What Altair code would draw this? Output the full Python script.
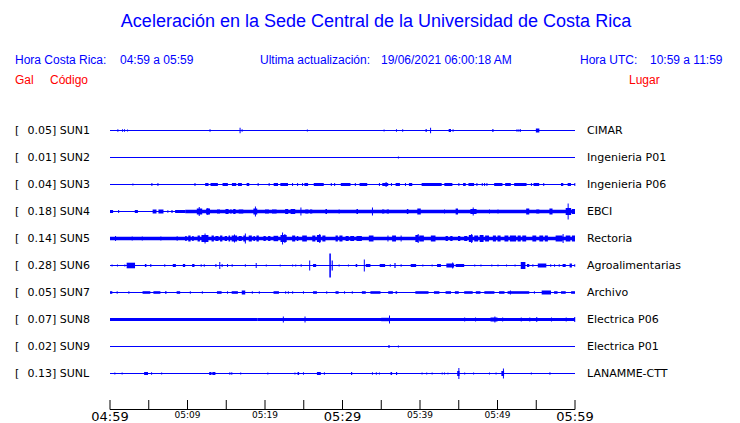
import altair as alt
import pandas as pd

# ---------------- data ----------------
stations = ["SUN1", "SUN2", "SUN3", "SUN4", "SUN5", "SUN6", "SUN7", "SUN8", "SUN9", "SUNL"]
peak_gal = ["0.05", "0.01", "0.04", "0.18", "0.14", "0.28", "0.05", "0.07", "0.02", "0.13"]
places = ["CIMAR", "Ingenieria P01", "Ingenieria P06", "EBCI", "Rectoria",
          "Agroalimentarias", "Archivo", "Electrica P06", "Electrica P01", "LANAMME-CTT"]

# time axis (minutes after 04:59 local time)
tick_minutes = [0, 5, 10, 15, 20, 25, 30, 35, 40, 45, 50, 55, 60]
label_minutes = [0, 10, 20, 30, 40, 50, 60]
tick_labels = ["04:59", "05:09", "05:19", "05:29", "05:39", "05:49", "05:59"]

# background noise level of each trace: (start min, end min, half amplitude)
base_sun1 = [(0, 60, 0.5)]
base_sun2 = [(0, 60, 0.5)]
base_sun3 = [(0, 60, 0.5)]
base_sun4 = [(0, 9.7, 0.5), (9.7, 60, 1.7)]
base_sun5 = [(0, 60, 1.7)]
base_sun6 = [(0, 60, 0.5)]
base_sun7 = [(0, 60, 0.5)]
base_sun8 = [(0, 19.0, 1.5), (19.0, 60, 1.4)]
base_sun9 = [(0, 60, 0.5)]
base_sunl = [(0, 60, 0.5)]

# bursts of each trace: (start min, end min, half amplitude)
burst_sun1 = [(0.95, 0.95, 1.3), (1.55, 1.55, 1.3), (1.81, 1.81, 1.3), (2.2, 2.2, 1.0),
              (12.84, 12.84, 1.3), (16.72, 16.72, 2.7), (16.98, 16.98, 1.3), (25.4, 25.4, 1.0),
              (35.3, 35.3, 1.0), (36.9, 36.9, 1.3), (37.7, 37.7, 1.3), (40.7, 40.9, 1.2),
              (41.3, 41.3, 2.7), (43.7, 44.0, 1.5), (44.2, 44.2, 1.3), (49.3, 49.5, 1.3),
              (52.45, 52.45, 1.3), (52.7, 52.7, 1.3), (52.9, 52.9, 1.3), (54.95, 55.4, 2.0)]
burst_sun2 = [(37.15, 37.15, 1.0)]
burst_sun3 = [(2.89, 2.89, 1.0), (5.34, 5.34, 1.5), (6.12, 6.12, 1.5), (10.9, 10.9, 1.5),
              (12.28, 12.71, 1.5), (12.97, 13.92, 1.5), (14.52, 15.21, 1.5), (15.73, 16.29, 1.5),
              (16.51, 17.02, 1.5), (17.63, 17.97, 1.5), (19.05, 19.05, 1.5), (20.47, 20.47, 1.5),
              (21.12, 21.68, 1.5), (21.98, 22.97, 1.5), (23.49, 23.49, 1.5), (24.14, 24.14, 1.5),
              (24.78, 24.78, 1.5), (25.08, 25.56, 1.5), (26.29, 27.58, 1.5), (28.49, 28.49, 1.5),
              (28.92, 28.92, 1.5), (29.78, 31.03, 1.5), (31.59, 31.59, 1.5), (32.2, 33.19, 1.5),
              (34.7, 34.7, 1.5), (35.13, 35.9, 1.5), (35.56, 35.56, 2.5), (36.25, 36.25, 1.5),
              (36.85, 37.41, 1.5), (38.06, 38.06, 1.5), (38.57, 39.0, 1.5), (40.21, 42.8, 1.5),
              (43.14, 44.18, 1.5), (44.95, 44.95, 1.5), (45.56, 45.9, 1.5), (46.25, 46.98, 1.5),
              (47.28, 47.28, 1.5), (47.97, 47.97, 1.5), (48.27, 48.27, 1.5), (48.57, 48.57, 1.5),
              (49.57, 50.64, 1.5), (50.99, 51.72, 1.5), (52.15, 53.75, 1.5), (54.31, 54.31, 1.5),
              (54.65, 55.38, 1.5), (55.9, 55.9, 1.5), (58.19, 58.49, 1.5), (59.05, 59.48, 1.5),
              (59.91, 59.91, 1.5)]
burst_sun4 = [(0.0, 0.4, 1.5), (1.05, 1.05, 1.5), (3.2, 3.6, 1.5), (5.5, 6.0, 2.0),
              (6.25, 6.9, 2.0), (7.4, 7.4, 1.3), (7.9, 8.1, 1.3), (8.4, 9.7, 1.5),
              (11.2, 11.9, 3.0), (11.45, 11.45, 4.5), (12.4, 12.9, 3.0), (12.55, 12.55, 3.5),
              (13.8, 14.2, 2.0), (14.9, 15.3, 2.5), (15.5, 15.7, 2.0), (15.9, 16.2, 2.5),
              (16.6, 17.2, 2.0), (18.5, 19.0, 3.0),
              (18.7, 18.7, 5.0), (20.0, 20.5, 2.0), (20.9, 21.5, 2.0), (22.6, 23.0, 2.5),
              (23.3, 23.9, 2.5), (24.57, 24.57, 4.0),
              (25.2, 25.6, 2.0), (25.8, 26.1, 2.0), (27.8, 28.0, 2.5), (29.5, 29.5, 2.0),
              (31.8, 32.0, 2.5), (33.8, 33.8, 4.0), (35.1, 35.4, 2.0), (35.7, 36.0, 2.0),
              (38.3, 38.5, 2.5), (39.65, 40.1, 3.0),
              (43.1, 43.1, 2.0), (44.6, 44.9, 3.0), (46.5, 47.3, 2.5), (46.8, 46.8, 4.0),
              (48.9, 48.9, 2.0), (50.0, 50.0, 2.0), (53.7, 54.1, 3.0), (55.0, 55.4, 2.0),
              (56.7, 57.1, 3.0), (58.8, 59.5, 3.5), (59.05, 59.05, 8.0), (59.6, 60.0, 2.5)]
burst_sun5 = [(0.65, 0.65, 2.5), (2.8, 2.8, 2.0), (4.1, 4.1, 2.0), (6.5, 6.5, 2.0),
              (8.6, 8.6, 2.3), (9.7, 9.9, 2.5), (10.1, 10.4, 3.0), (10.6, 10.8, 2.5),
              (11.3, 11.6, 3.0), (11.8, 12.7, 3.5), (12.2, 12.2, 5.0),
              (13.1, 13.4, 3.0), (13.6, 14.0, 2.5), (14.2, 14.5, 3.0), (14.8, 15.1, 2.5),
              (15.3, 15.5, 3.0), (15.7, 16.4, 3.0), (16.0, 16.0, 4.0), (16.6, 17.0, 2.5),
              (17.2, 17.5, 3.0), (17.4, 17.4, 5.0), (17.9, 18.3, 3.0), (18.5, 18.7, 2.5),
              (18.9, 19.2, 3.0), (19.8, 20.1, 2.5), (20.4, 20.7, 2.5), (21.1, 21.7, 2.7),
              (22.0, 22.8, 3.5), (22.2, 22.2, 6.0), (22.5, 22.5, 4.5), (23.5, 23.9, 3.0),
              (24.1, 24.3, 2.5), (24.8, 25.4, 3.0), (26.1, 26.5, 3.0), (26.7, 27.2, 3.5),
              (27.0, 27.0, 4.5), (27.4, 27.8, 3.0), (29.1, 29.4, 3.0), (29.6, 30.0, 3.0),
              (30.4, 30.8, 2.5), (31.0, 31.5, 2.5), (31.8, 32.5, 2.5), (33.4, 34.0, 3.0),
              (35.8, 35.8, 3.0), (36.4, 36.9, 3.0), (37.5, 37.5, 3.0), (39.4, 39.8, 3.5),
              (39.9, 40.5, 3.0), (39.7, 39.7, 4.5), (41.4, 42.0, 3.0), (43.3, 43.6, 2.5),
              (43.9, 44.2, 2.5), (44.9, 45.2, 2.5), (45.7, 46.1, 2.5), (46.3, 46.8, 3.5),
              (46.6, 46.6, 4.5), (47.0, 47.5, 3.0), (47.7, 48.2, 3.5), (48.4, 48.9, 3.0),
              (49.4, 49.8, 3.0), (50.0, 50.4, 3.0), (50.9, 51.4, 3.0), (51.6, 52.4, 3.0),
              (52.6, 53.0, 3.0), (53.2, 53.7, 3.0), (54.5, 55.0, 3.0), (55.4, 55.9, 3.0),
              (56.1, 56.5, 3.0), (57.5, 58.4, 3.0), (58.4, 58.4, 4.5), (58.8, 59.4, 3.0),
              (59.6, 60.0, 3.0)]
burst_sun6 = [(0.2, 0.2, 1.0), (0.9, 0.9, 1.0), (1.85, 1.85, 1.0), (2.15, 3.23, 2.8),
              (4.5, 4.7, 1.5), (5.2, 5.2, 1.5), (7.0, 7.0, 1.3), (8.1, 8.5, 1.5),
              (9.4, 9.7, 1.5), (10.6, 10.9, 1.5), (11.7, 11.7, 1.3), (12.1, 12.1, 1.3),
              (13.6, 13.7, 1.5), (14.1, 14.1, 3.5), (14.4, 14.4, 1.5), (15.1, 15.2, 1.5),
              (15.7, 15.7, 1.3), (17.4, 17.4, 1.3), (18.8, 18.8, 2.5), (20.1, 20.1, 1.0),
              (21.9, 21.9, 1.0), (23.5, 23.5, 1.0), (23.9, 23.9, 1.0), (24.6, 24.6, 1.3),
              (25.7, 25.7, 5.0), (26.2, 26.6, 1.5), (28.3, 28.5, 12.0), (28.6, 28.75, 5.0),
              (29.5, 29.5, 1.0), (30.7, 30.7, 1.0), (31.7, 31.9, 1.5), (32.75, 32.75, 6.0),
              (33.0, 33.6, 1.5), (34.8, 35.5, 1.5), (36.1, 36.1, 1.3), (36.7, 36.85, 2.5),
              (37.5, 37.5, 1.3), (38.8, 39.5, 1.5), (40.3, 40.3, 1.0), (41.5, 41.5, 1.0),
              (42.2, 42.7, 1.5), (43.4, 44.4, 2.0), (44.15, 44.15, 3.0), (44.6, 45.7, 1.5),
              (47.0, 47.0, 1.0), (47.8, 47.8, 1.0), (49.2, 49.2, 1.0), (50.0, 50.0, 1.0),
              (51.1, 51.1, 1.0), (52.2, 52.2, 1.0), (53.0, 53.6, 3.5), (53.8, 54.1, 1.5),
              (54.5, 54.5, 1.3), (55.2, 56.3, 2.0), (56.8, 56.8, 1.3), (57.3, 57.3, 1.3),
              (57.9, 57.9, 1.3), (58.4, 58.8, 1.5), (59.3, 59.6, 2.0), (59.9, 59.9, 1.3)]
burst_sun7 = [(0.0, 0.3, 1.3), (0.86, 0.86, 1.3), (2.37, 2.37, 1.3), (4.2, 5.2, 1.3),
              (5.6, 6.5, 1.3), (7.1, 7.3, 1.3), (8.6, 9.05, 1.3), (10.3, 10.3, 1.3),
              (11.85, 11.85, 1.3), (13.8, 14.4, 1.3), (15.1, 15.1, 1.3), (15.7, 16.5, 1.3),
              (17.0, 17.45, 2.0), (18.3, 18.3, 1.3), (19.2, 19.2, 1.3), (21.1, 21.8, 1.3),
              (22.6, 22.6, 1.3), (22.95, 22.95, 1.3), (23.5, 23.5, 1.3), (24.9, 24.9, 1.3),
              (26.2, 26.7, 1.3), (27.9, 27.9, 1.3), (29.1, 29.5, 1.3), (30.2, 30.2, 1.3),
              (31.2, 31.2, 1.3), (32.5, 33.0, 1.3), (33.6, 34.9, 1.3), (35.9, 36.5, 1.3),
              (36.85, 37.05, 1.3), (39.4, 41.1, 1.3), (41.8, 42.5, 1.3), (43.3, 44.0, 1.3),
              (44.5, 45.0, 1.3), (45.7, 46.8, 1.3), (47.2, 47.8, 1.3), (48.3, 49.6, 1.3),
              (50.2, 50.9, 1.3), (51.3, 54.1, 1.3), (51.6, 51.6, 2.0), (54.7, 54.7, 1.3),
              (55.7, 56.9, 2.0), (57.3, 57.75, 1.3), (58.2, 58.8, 1.3), (59.5, 60.0, 1.3)]
burst_sun8 = [(22.3, 22.3, 3.0), (25.1, 25.1, 3.0), (35.0, 36.0, 1.7), (36.0, 36.0, 4.0),
              (45.7, 45.7, 2.0), (47.1, 47.1, 2.0), (49.1, 50.0, 2.0), (49.6, 49.6, 3.0),
              (50.6, 50.6, 2.0), (53.0, 53.0, 2.0), (54.1, 54.1, 2.0), (55.0, 55.0, 2.5),
              (56.9, 56.9, 2.0), (58.8, 58.8, 2.0), (59.9, 59.9, 2.5)]
burst_sun9 = [(35.9, 36.1, 1.2), (37.15, 37.15, 1.0)]
burst_sunl = [(0.56, 0.56, 1.0), (1.5, 1.5, 1.0), (4.4, 4.9, 1.5), (5.3, 5.3, 1.3),
              (6.6, 6.6, 1.0), (12.8, 13.1, 1.5), (13.2, 13.6, 1.5), (15.4, 15.4, 1.3),
              (15.65, 15.65, 1.3), (16.8, 16.8, 1.0), (20.3, 20.3, 1.0), (23.8, 23.8, 1.0),
              (24.2, 24.4, 1.5), (24.9, 24.9, 1.3), (26.7, 27.2, 1.5), (27.6, 27.6, 1.3),
              (31.1, 31.25, 1.5), (33.8, 33.8, 1.3), (34.3, 34.3, 1.3), (34.7, 34.7, 1.0),
              (36.2, 36.4, 1.5), (36.9, 37.05, 1.5), (40.2, 40.2, 1.0), (40.8, 40.8, 1.0),
              (41.5, 41.5, 1.0), (42.8, 42.8, 1.0), (43.1, 43.1, 1.0), (43.5, 43.7, 0.8),
              (44.8, 45.1, 2.5), (44.95, 44.95, 5.5), (45.7, 45.7, 1.0), (46.85, 46.85, 1.0),
              (48.9, 48.9, 1.0), (49.75, 49.75, 1.0), (50.5, 50.85, 2.5), (50.7, 50.7, 5.0),
              (54.3, 54.3, 1.0), (56.7, 56.7, 1.3)]

baselines = [base_sun1, base_sun2, base_sun3, base_sun4, base_sun5,
             base_sun6, base_sun7, base_sun8, base_sun9, base_sunl]
bursts = [burst_sun1, burst_sun2, burst_sun3, burst_sun4, burst_sun5,
          burst_sun6, burst_sun7, burst_sun8, burst_sun9, burst_sunl]

# ---------------- build tables ----------------
ROW = 27          # display units between two traces
MIN_DUR = 0.13    # a spike is drawn at least one sample wide

rows = []
for i, (segs, bs) in enumerate(zip(baselines, bursts)):
    for s, e, a in list(segs) + list(bs):
        if e - s < MIN_DUR:
            e = s + MIN_DUR
        rows.append({"station": stations[i], "t0": s, "t1": e,
                     "lo": i * ROW - a, "hi": i * ROW + a})
traces = pd.DataFrame(rows)

labels = pd.DataFrame({
    "pos": [i * ROW for i in range(len(stations))],
    "left": [f"{g}] {s}" for g, s in zip(peak_gal, stations)],
    "place": places,
})

ticks = pd.DataFrame({"t": tick_minutes})
tlabels = pd.DataFrame({"t": label_minutes, "label": tick_labels,
                        "major": [m % 30 == 0 for m in label_minutes]})
axis_span = pd.DataFrame({"t0": [tick_minutes[0]], "t1": [tick_minutes[-1]]})

xscale = alt.Scale(domain=[0, 60], range=[102, 567], nice=False, zero=False)
yscale = alt.Scale(domain=[0, 9 * ROW], range=[122.5, 122.5 + 9 * ROW], nice=False, zero=False)

BLUE = "#0000ff"
RED = "#ff0000"
HFONT = "Liberation Sans"
LFONT = "DejaVu Sans"

trace_layer = alt.Chart(traces).mark_rect(color=BLUE, strokeWidth=0).encode(
    x=alt.X("t0:Q", scale=xscale, axis=None),
    x2="t1:Q",
    y=alt.Y("lo:Q", scale=yscale, axis=None),
    y2="hi:Q",
)

bracket_layer = alt.Chart(labels).mark_text(
    align="left", baseline="middle", font=LFONT, fontSize=11, color="black"
).encode(x=alt.value(7), y=alt.Y("pos:Q", scale=yscale, axis=None), text=alt.value("["))

left_layer = alt.Chart(labels).mark_text(
    align="left", baseline="middle", font=LFONT, fontSize=11, color="black"
).encode(x=alt.value(19.5), y=alt.Y("pos:Q", scale=yscale, axis=None), text="left:N")

right_layer = alt.Chart(labels).mark_text(
    align="left", baseline="middle", font=LFONT, fontSize=11, color="black"
).encode(x=alt.value(579), y=alt.Y("pos:Q", scale=yscale, axis=None), text="place:N")

axis_line = alt.Chart(axis_span).mark_rule(color="black", strokeWidth=1).encode(
    x=alt.X("t0:Q", scale=xscale, axis=None), x2="t1:Q", y=alt.value(401.5)
)
tick_layer = alt.Chart(ticks).mark_rule(color="black", strokeWidth=1).encode(
    x=alt.X("t:Q", scale=xscale, axis=None), y=alt.value(392), y2=alt.value(401.5)
)
major_lab = alt.Chart(tlabels).transform_filter("datum.major").mark_text(
    align="center", baseline="middle", font=LFONT, fontSize=13, color="black"
).encode(x=alt.X("t:Q", scale=xscale, axis=None), y=alt.value(408.5), text="label:N")
minor_lab = alt.Chart(tlabels).transform_filter("!datum.major").mark_text(
    align="center", baseline="middle", font=LFONT, fontSize=9, color="black"
).encode(x=alt.X("t:Q", scale=xscale, axis=None), y=alt.value(407.3), text="label:N")

one = pd.DataFrame({"k": [0]})


def txt(s, x, y, size, color, align="left"):
    return alt.Chart(one).mark_text(
        align=align, baseline="middle", font=HFONT, fontSize=size, color=color
    ).encode(x=alt.value(x), y=alt.value(y), text=alt.value(s))


header = [
    txt("Aceleración en la Sede Central de la Universidad de Costa Rica", 368, 14, 18, BLUE, "center"),
    txt("Hora Costa Rica:", 7, 52, 12, BLUE),
    txt("04:59 a 05:59", 112, 52, 12, BLUE),
    txt("Ultima actualización:", 252, 52, 12, BLUE),
    txt("19/06/2021 06:00:18 AM", 373, 52, 12, BLUE),
    txt("Hora UTC:", 572, 52, 12, BLUE),
    txt("10:59 a 11:59", 642, 52, 12, BLUE),
    txt("Gal", 7, 72, 12, RED),
    txt("Código", 42, 72, 12, RED),
    txt("Lugar", 621, 72, 12, RED),
]

chart = alt.layer(
    trace_layer, bracket_layer, left_layer, right_layer,
    axis_line, tick_layer, major_lab, minor_lab, *header
).properties(
    width=724, height=415,
    autosize=alt.AutoSizeParams(type="none"),
    padding=0,
    background="white",
).configure_view(stroke=None)

chart.save("out.html", embed_options={"renderer": "svg", "actions": False})
